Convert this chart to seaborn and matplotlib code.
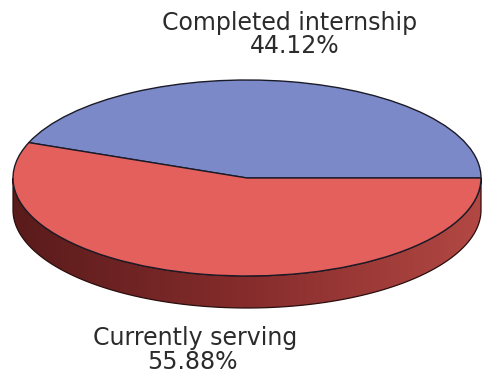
import numpy as np
import matplotlib
matplotlib.use("Agg")
import matplotlib.pyplot as plt
import seaborn as sns
from matplotlib.path import Path
from matplotlib.patches import PathPatch
from matplotlib.colors import LinearSegmentedColormap

# Share of respondents by internship status
categories = ["Completed internship", "Currently serving"]
shares = [44.12, 55.88]
slice_colors = ["#7b89c8", "#e4605c"]
side_colors = ["#5a1b1b", "#862c2c", "#b24843"]

sns.set_theme(style="white")
plt.rcParams["font.family"] = ["DejaVu Sans"]

fig = plt.figure(figsize=(4.83, 3.76), dpi=100)
ax = fig.add_axes([0, 0, 1, 1])

# Disc top, tilted by squashing the y axis
wedges, _ = ax.pie(
    shares,
    colors=slice_colors,
    startangle=0,
    counterclock=True,
    radius=1.0,
    wedgeprops=dict(edgecolor="#1b1b28", linewidth=1.0, zorder=3),
)
ax.set_aspect("auto")
ax.axis("off")

# Disc rim: the front half of each slice, dropped by the disc thickness
depth = 0.3265
edges = np.concatenate([[0], np.cumsum(shares)]) / np.sum(shares) * 360.0
side_cmap = LinearSegmentedColormap.from_list("rim", side_colors)
for lo, hi in zip(edges[:-1], edges[1:]):
    a, b = max(lo, 180.0), min(hi, 360.0)
    if b <= a:
        continue
    th = np.radians(np.linspace(a, b, 200))
    top = np.column_stack([np.cos(th), np.sin(th)])
    bottom = np.column_stack([np.cos(th[::-1]), np.sin(th[::-1]) - depth])
    verts = np.vstack([top, bottom, top[:1]])
    codes = [Path.MOVETO] + [Path.LINETO] * (len(verts) - 2) + [Path.CLOSEPOLY]
    rim = PathPatch(Path(verts, codes), facecolor="none",
                    edgecolor="#2a0e0e", linewidth=0.9, zorder=2)
    ax.add_patch(rim)
    grad = np.linspace(0, 1, 256).reshape(1, -1)
    img = ax.imshow(grad, cmap=side_cmap, aspect="auto",
                    extent=(-1.0, 1.0, -1.0 - depth, 0.0), zorder=1,
                    interpolation="bilinear")
    img.set_clip_path(rim)

ax.set_xlim(-1.0556, 1.0085)
ax.set_ylim(-2.0204, 1.8163)

label_color = "#2b2b2b"
label_size = 17
ax.text(0.600, 0.938, categories[0], transform=ax.transAxes, ha="center",
        va="center", fontsize=label_size, color=label_color)
ax.text(0.610, 0.877, f"{shares[0]:.2f}%", transform=ax.transAxes, ha="center",
        va="center", fontsize=label_size, color=label_color)
ax.text(0.405, 0.101, categories[1], transform=ax.transAxes, ha="center",
        va="center", fontsize=label_size, color=label_color)
ax.text(0.398, 0.037, f"{shares[1]:.2f}%", transform=ax.transAxes, ha="center",
        va="center", fontsize=label_size, color=label_color)

fig.savefig("out.png", dpi=100, facecolor="white")
